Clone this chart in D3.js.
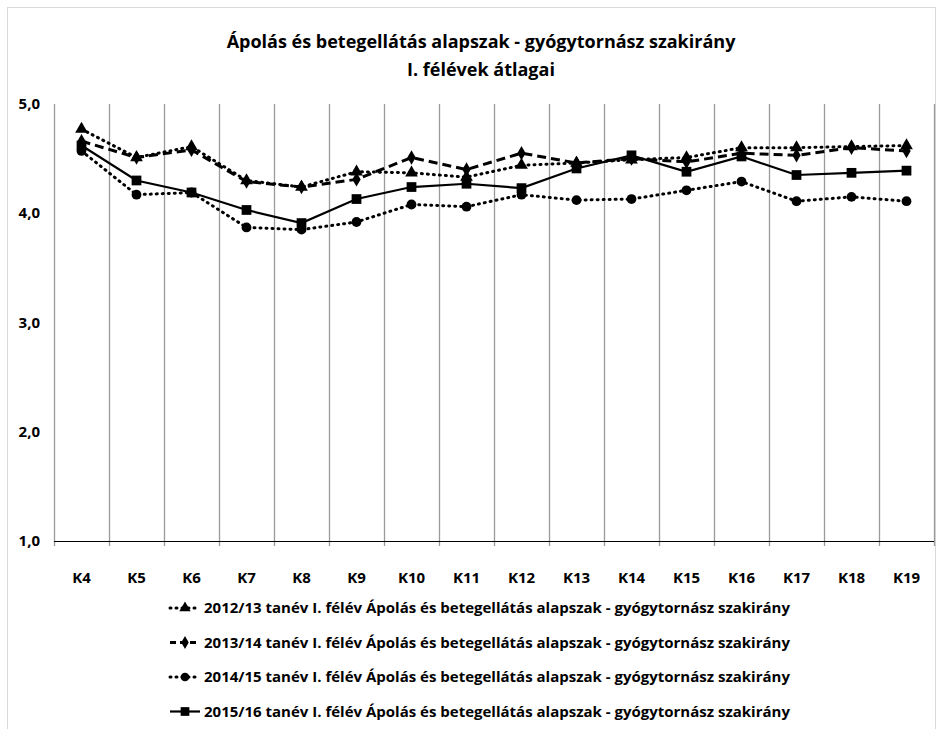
<!DOCTYPE html>
<html>
<head>
<meta charset="utf-8">
<script src="https://cdn.jsdelivr.net/npm/d3@7"></script>
<style>
  body { margin: 0; background: #fff; }
  text { font-family: "Liberation Sans Narrow", "Open Sans", sans-serif; font-weight: bold; fill: #000; }
</style>
</head>
<body>
<svg id="chart" width="936" height="729"></svg>
<script>
const categories = ['K4', 'K5', 'K6', 'K7', 'K8', 'K9', 'K10', 'K11', 'K12', 'K13', 'K14', 'K15', 'K16', 'K17', 'K18', 'K19'];
const yTicks = [1, 2, 3, 4, 5];

const s2012 = [4.77, 4.51, 4.61, 4.30, 4.24, 4.38, 4.37, 4.33, 4.44, 4.46, 4.49, 4.51, 4.60, 4.60, 4.61, 4.62];
const s2013 = [4.66, 4.51, 4.58, 4.29, 4.24, 4.31, 4.51, 4.40, 4.55, 4.46, 4.50, 4.47, 4.55, 4.53, 4.60, 4.57];
const s2014 = [4.57, 4.17, 4.19, 3.87, 3.85, 3.92, 4.08, 4.06, 4.17, 4.12, 4.13, 4.21, 4.29, 4.11, 4.15, 4.11];
const s2015 = [4.62, 4.30, 4.19, 4.03, 3.91, 4.13, 4.24, 4.27, 4.23, 4.41, 4.53, 4.38, 4.52, 4.35, 4.37, 4.39];

const seriesNames = [
  '2012/13 tanév I. félév Ápolás és betegellátás alapszak - gyógytornász szakirány',
  '2013/14 tanév I. félév Ápolás és betegellátás alapszak - gyógytornász szakirány',
  '2014/15 tanév I. félév Ápolás és betegellátás alapszak - gyógytornász szakirány',
  '2015/16 tanév I. félév Ápolás és betegellátás alapszak - gyógytornász szakirány'
];

const series = [
  { name: seriesNames[0], values: s2012, dash: '1,5', width: 3, symbol: d3.symbolTriangle, size: 70 },
  { name: seriesNames[1], values: s2013, dash: '9,5', width: 3, symbol: d3.symbolDiamond, size: 60 },
  { name: seriesNames[2], values: s2014, dash: '1,5', width: 3, symbol: d3.symbolCircle, size: 75 },
  { name: seriesNames[3], values: s2015, dash: null, width: 2.2, symbol: d3.symbolSquare, size: 95 }
];

const svg = d3.select('#chart');

// chart border
svg.append('rect')
  .attr('x', 7.5).attr('y', 7.5)
  .attr('width', 928).attr('height', 740)
  .attr('fill', 'none').attr('stroke', '#d9d9d9');

const x = d3.scaleBand().domain(categories).range([54, 934]);
const y = d3.scaleLinear().domain([1, 5]).range([541, 104]);

// title
svg.append('text')
  .attr('x', 481).attr('y', 48)
  .attr('text-anchor', 'middle')
  .style('font-size', '18px')
  .text('Ápolás és betegellátás alapszak - gyógytornász szakirány');
svg.append('text')
  .attr('x', 481).attr('y', 76)
  .attr('text-anchor', 'middle')
  .style('font-size', '18px')
  .text('I. félévek átlagai');

// vertical gridlines at category boundaries
const bounds = categories.map(c => x(c)).concat([x.range()[1]]);
svg.append('g')
  .selectAll('line')
  .data(bounds)
  .join('line')
  .attr('x1', d => d + 0.5).attr('x2', d => d + 0.5)
  .attr('y1', y(5)).attr('y2', y(1) + 5)
  .attr('stroke', '#9a9a9a')
  .attr('stroke-width', 1.3);

// x axis line
svg.append('line')
  .attr('x1', x.range()[0]).attr('x2', x.range()[1])
  .attr('y1', y(1) + 0.5).attr('y2', y(1) + 0.5)
  .attr('stroke', '#000').attr('stroke-width', 1.2);

// y labels
svg.append('g')
  .selectAll('text')
  .data(yTicks)
  .join('text')
  .attr('x', 40).attr('y', d => y(d) + 5)
  .attr('text-anchor', 'end')
  .style('font-size', '15px')
  .text(d => d3.format('.1f')(d).replace('.', ','));

// x labels
svg.append('g')
  .selectAll('text')
  .data(categories)
  .join('text')
  .attr('x', d => x(d) + x.bandwidth() / 2).attr('y', 583)
  .attr('text-anchor', 'middle')
  .style('font-size', '15px')
  .text(d => d);

const line = d3.line()
  .x((d, i) => x(categories[i]) + x.bandwidth() / 2)
  .y(d => y(d));

series.forEach(s => {
  const g = svg.append('g');
  g.append('path')
    .datum(s.values)
    .attr('d', line)
    .attr('fill', 'none')
    .attr('stroke', '#000')
    .attr('stroke-width', s.width)
    .attr('stroke-linecap', s.dash === '1,5' ? 'round' : 'butt')
    .attr('stroke-dasharray', s.dash);
  g.selectAll('path.m')
    .data(s.values)
    .join('path')
    .attr('class', 'm')
    .attr('transform', (d, i) => `translate(${x(categories[i]) + x.bandwidth() / 2},${y(d)})`)
    .attr('d', d3.symbol().type(s.symbol).size(s.size))
    .attr('fill', '#000');
});

// legend
const legend = svg.append('g');
series.forEach((s, i) => {
  const ly = 608 + i * 34.5;
  const item = legend.append('g').attr('transform', `translate(0,${ly})`);
  item.append('line')
    .attr('x1', 170).attr('x2', 200)
    .attr('y1', 0).attr('y2', 0)
    .attr('stroke', '#000')
    .attr('stroke-width', s.width)
    .attr('stroke-linecap', s.dash === '1,5' ? 'round' : 'butt')
    .attr('stroke-dasharray', s.dash === '9,5' ? '6,4' : s.dash);
  item.append('path')
    .attr('transform', 'translate(185,0)')
    .attr('d', d3.symbol().type(s.symbol).size(s.size * 0.8))
    .attr('fill', '#000');
  item.append('text')
    .attr('x', 204).attr('y', 5)
    .style('font-size', '15px')
    .text(s.name);
});
</script>
</body>
</html>
